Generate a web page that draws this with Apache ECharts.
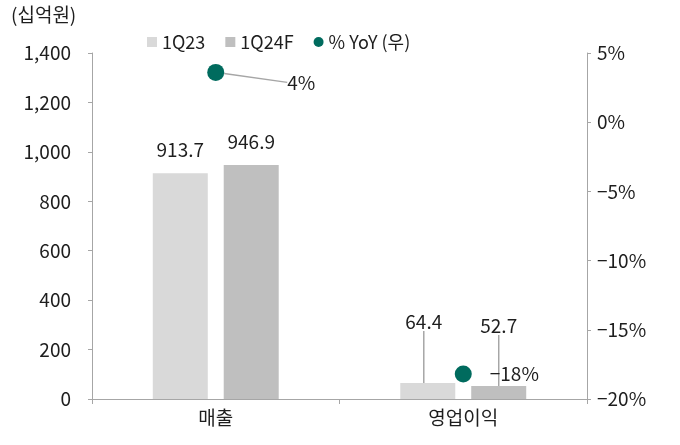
<!DOCTYPE html>
<html><head><meta charset="utf-8">
<script src="https://cdn.jsdelivr.net/npm/echarts@6/dist/echarts.min.js"></script>
<style>html,body{margin:0;padding:0;background:#fff}#c{width:680px;height:445px}</style>
</head><body><div id="c"></div>
<script>
const categories = ['매출', '영업이익'];
const q23 = [913.7, 64.4];
const q24f = [946.9, 52.7];
const yoy = [3.6, -18.2];
const yoyLabels = ['4%', '−18%'];
const leftTicks = {min: 0, max: 1400, interval: 200};
const rightTicks = {min: -20, max: 5, interval: 5};

const FONT = '"Noto Sans CJK KR", "Noto Sans", sans-serif';
const TXT = '#1e1e1e';
const FS = 19;
const LINE = {color: '#a6a6a6', width: 1.5};
const chart = echarts.init(document.getElementById('c'), null, {renderer: 'canvas'});
const fmtNum = v => v.toLocaleString('en-US');
const fmtPct = v => (v < 0 ? '−' + Math.abs(v) : v) + '%';
const withLine = (vals, idx) => vals.map((v, i) => i === idx ? {value: v, labelLine: {show: true, lineStyle: LINE}} : v);

chart.setOption({
  animation: false,
  textStyle: {fontFamily: FONT},
  graphic: [{type: 'text', left: 11, top: 5, style: {text: '(십억원)', font: '19px ' + FONT, fill: TXT}}],
  legend: {
    top: 28, left: 142, itemWidth: 10, itemHeight: 10, itemGap: 20,
    textStyle: {fontSize: 18, color: TXT, fontFamily: FONT},
    data: [{name: '1Q23', icon: 'rect'}, {name: '1Q24F', icon: 'rect'}, {name: '% YoY (우)', icon: 'circle'}]
  },
  grid: {left: 92, right: 93, top: 53, bottom: 46},
  xAxis: {
    type: 'category', data: categories,
    axisLine: {lineStyle: {color: '#a6a6a6'}},
    axisTick: {show: true, length: 5, lineStyle: {color: '#a6a6a6'}},
    axisLabel: {fontSize: FS, color: TXT, margin: 9, fontFamily: FONT}
  },
  yAxis: [{
    type: 'value', min: leftTicks.min, max: leftTicks.max, interval: leftTicks.interval,
    splitLine: {show: false},
    axisLine: {show: true, lineStyle: {color: '#a6a6a6'}},
    axisTick: {show: true, length: 4, lineStyle: {color: '#a6a6a6'}},
    axisLabel: {fontSize: FS, color: TXT, margin: 21, formatter: fmtNum, fontFamily: FONT}
  }, {
    type: 'value', min: rightTicks.min, max: rightTicks.max, interval: rightTicks.interval,
    splitLine: {show: false},
    axisLine: {show: true, lineStyle: {color: '#a6a6a6'}},
    axisTick: {show: true, length: 4, lineStyle: {color: '#a6a6a6'}},
    axisLabel: {fontSize: FS, color: TXT, margin: 10, formatter: fmtPct, fontFamily: FONT}
  }],
  series: [{
    name: '1Q23', type: 'bar', data: withLine(q23, 1), barWidth: 55, barGap: '29%',
    itemStyle: {color: '#d9d9d9'},
    label: {show: true, position: 'top', distance: 14, fontSize: FS, color: TXT, fontFamily: FONT},
    labelLayout: p => p.dataIndex === 1 ? {dy: -38, dx: -4} : {}
  }, {
    name: '1Q24F', type: 'bar', data: withLine(q24f, 1), barWidth: 55,
    itemStyle: {color: '#bfbfbf'},
    label: {show: true, position: 'top', distance: 14, fontSize: FS, color: TXT, fontFamily: FONT},
    labelLayout: p => p.dataIndex === 1 ? {dy: -37} : {}
  }, {
    name: '% YoY (우)', type: 'scatter', yAxisIndex: 1, data: withLine(yoy, 0), symbolSize: 17,
    itemStyle: {color: '#006b5e', opacity: 1},
    label: {show: true, position: 'right', distance: 18, fontSize: FS, color: TXT, opacity: 1, fontFamily: FONT,
      formatter: p => yoyLabels[p.dataIndex]},
    labelLayout: p => p.dataIndex === 0 ? {dx: 45, dy: 10} : {}
  }]
});
</script></body></html>
